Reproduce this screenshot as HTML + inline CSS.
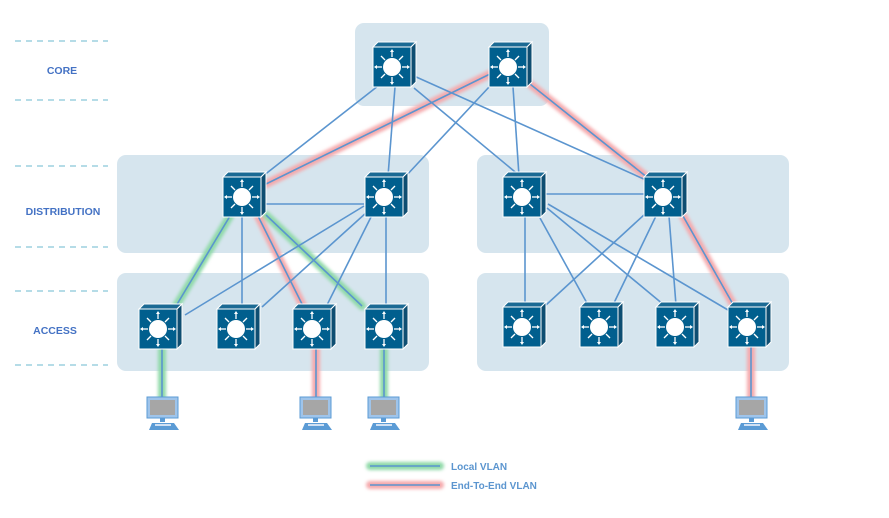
<!DOCTYPE html>
<html><head><meta charset="utf-8"><style>
body{margin:0;background:#fff;width:889px;height:518px;overflow:hidden}
svg{display:block}
text{font-family:"Liberation Sans",sans-serif;font-weight:bold;fill:#4472c4}
</style></head><body>
<svg width="889" height="518" viewBox="0 0 889 518">
<defs>
<filter id="bl" x="-20%" y="-20%" width="140%" height="140%"><feGaussianBlur stdDeviation="1.6"/></filter>
<symbol id="sw" viewBox="-25 -25 50 50" overflow="visible">
  <polygon points="-20,-19 -15,-24 23,-24 18,-19" fill="#1b6a94" stroke="#fff" stroke-width="1"/>
  <polygon points="18,-19 23,-24 23,16 18,21" fill="#0e4e72" stroke="#fff" stroke-width="1"/>
  <rect x="-20" y="-19" width="38" height="40" fill="#015f8e" stroke="#fff" stroke-width="1"/>
  <circle cx="-1" cy="1" r="9" fill="#fff"/>
  <g stroke="#fff" stroke-width="1.3" fill="#fff">
    <line x1="-1" y1="-9" x2="-1" y2="-15"/><line x1="-1" y1="11" x2="-1" y2="17"/>
    <line x1="-11" y1="1" x2="-17" y2="1"/><line x1="9" y1="1" x2="15" y2="1"/>
    <line x1="-8" y1="-6" x2="-12" y2="-10"/><line x1="6" y1="-6" x2="10" y2="-10"/>
    <line x1="-8" y1="8" x2="-12" y2="12"/><line x1="6" y1="8" x2="10" y2="12"/>
  </g>
  <g fill="#fff">
    <polygon points="-1,-17 -3,-14 1,-14"/><polygon points="-1,19 -3,16 1,16"/>
    <polygon points="-19,1 -16,-1 -16,3"/><polygon points="17,1 14,-1 14,3"/>
  </g>
</symbol>
<symbol id="pc" viewBox="0 0 36 36" overflow="visible">
  <rect x="1" y="1" width="31" height="21" fill="#9fc4ea" stroke="#5b9bd5"/>
  <rect x="4" y="4" width="25" height="15" fill="#a6a6a6"/>
  <rect x="14" y="22" width="5" height="4" fill="#5b9bd5"/>
  <polygon points="3,34 6,27 28,27 33,34" fill="#5b9bd5"/>
  <rect x="9" y="28" width="16" height="2" fill="#cfe0f3"/>
</symbol>
</defs>
<g stroke="#6bb8cf" stroke-width="1" stroke-dasharray="6,5">
<line x1="15" y1="41" x2="108" y2="41"/><line x1="15" y1="100" x2="108" y2="100"/>
<line x1="15" y1="166" x2="108" y2="166"/><line x1="15" y1="247" x2="108" y2="247"/>
<line x1="15" y1="291" x2="108" y2="291"/><line x1="15" y1="365" x2="108" y2="365"/>
</g>
<text x="62" y="74" font-size="10.5" text-anchor="middle">CORE</text>
<text x="63" y="215" font-size="10.5" text-anchor="middle">DISTRIBUTION</text>
<text x="55" y="334" font-size="10.5" text-anchor="middle">ACCESS</text>
<g fill="#d6e5ee">
<rect x="355" y="23" width="194" height="83" rx="9"/>
<rect x="117" y="155" width="312" height="98" rx="9"/>
<rect x="477" y="155" width="312" height="98" rx="9"/>
<rect x="117" y="273" width="312" height="98" rx="9"/>
<rect x="477" y="273" width="312" height="98" rx="9"/>
</g>
<g stroke-linecap="round" fill="none" filter="url(#bl)">
<g stroke="#f5a9ac" stroke-width="8">
<line x1="490" y1="74" x2="266" y2="184"/>
<line x1="530" y1="84" x2="648" y2="178"/>
<line x1="257" y1="214" x2="303" y2="306"/>
<line x1="683" y1="216" x2="734" y2="306"/>
<line x1="316" y1="348" x2="316" y2="400"/>
<line x1="751" y1="346" x2="751" y2="400"/>
<line x1="370" y1="485" x2="440" y2="485"/>
</g>
<g stroke="#8fd9a8" stroke-width="8">
<line x1="230" y1="216" x2="176" y2="306"/>
<line x1="266" y1="215" x2="362" y2="306"/>
<line x1="162" y1="348" x2="162" y2="400"/>
<line x1="384" y1="348" x2="384" y2="400"/>
<line x1="370" y1="466" x2="440" y2="466"/>
</g>
</g>
<g stroke="#5b95cf" stroke-width="1.6" fill="none">
<line x1="378" y1="86" x2="263" y2="176"/>
<line x1="395" y1="87" x2="388" y2="176"/>
<line x1="414" y1="88" x2="520" y2="176"/>
<line x1="414" y1="76" x2="646" y2="180"/>
<line x1="490" y1="74" x2="266" y2="184"/>
<line x1="490" y1="86" x2="405" y2="177"/>
<line x1="513" y1="87" x2="519" y2="176"/>
<line x1="530" y1="84" x2="648" y2="178"/>
<line x1="264" y1="204" x2="364" y2="204"/>
<line x1="230" y1="216" x2="176" y2="306"/>
<line x1="242" y1="217" x2="242" y2="306"/>
<line x1="257" y1="214" x2="303" y2="306"/>
<line x1="266" y1="215" x2="362" y2="306"/>
<line x1="364" y1="206" x2="185" y2="315"/>
<line x1="367" y1="212" x2="262" y2="307"/>
<line x1="372" y1="215" x2="326" y2="307"/>
<line x1="386" y1="217" x2="386" y2="306"/>
<line x1="545" y1="194" x2="644" y2="194"/>
<line x1="525" y1="217" x2="525" y2="305"/>
<line x1="540" y1="218" x2="588" y2="305"/>
<line x1="547" y1="208" x2="664" y2="305"/>
<line x1="548" y1="204" x2="728" y2="310"/>
<line x1="645" y1="214" x2="546" y2="305"/>
<line x1="656" y1="216" x2="613" y2="305"/>
<line x1="669" y1="216" x2="676" y2="305"/>
<line x1="683" y1="216" x2="734" y2="306"/>
<line x1="162" y1="348" x2="162" y2="400"/>
<line x1="316" y1="348" x2="316" y2="400"/>
<line x1="384" y1="348" x2="384" y2="400"/>
<line x1="751" y1="346" x2="751" y2="400"/>
<line x1="370" y1="466" x2="440" y2="466"/>
<line x1="370" y1="485" x2="440" y2="485"/>
</g>
<g>
<use href="#sw" x="368" y="41" width="50" height="50"/>
<use href="#sw" x="484" y="41" width="50" height="50"/>
<use href="#sw" x="218" y="171" width="50" height="50"/>
<use href="#sw" x="360" y="171" width="50" height="50"/>
<use href="#sw" x="498" y="171" width="50" height="50"/>
<use href="#sw" x="639" y="171" width="50" height="50"/>
<use href="#sw" x="134" y="303" width="50" height="50"/>
<use href="#sw" x="212" y="303" width="50" height="50"/>
<use href="#sw" x="288" y="303" width="50" height="50"/>
<use href="#sw" x="360" y="303" width="50" height="50"/>
<use href="#sw" x="498" y="301" width="50" height="50"/>
<use href="#sw" x="575" y="301" width="50" height="50"/>
<use href="#sw" x="651" y="301" width="50" height="50"/>
<use href="#sw" x="723" y="301" width="50" height="50"/>
</g>
<use href="#pc" x="146" y="396" width="36" height="36"/>
<use href="#pc" x="299" y="396" width="36" height="36"/>
<use href="#pc" x="367" y="396" width="36" height="36"/>
<use href="#pc" x="735" y="396" width="36" height="36"/>
<text x="451" y="470" font-size="10" style="fill:#5b95cf">Local VLAN</text>
<text x="451" y="489" font-size="10" style="fill:#5b95cf">End-To-End VLAN</text>
</svg>
</body></html>
